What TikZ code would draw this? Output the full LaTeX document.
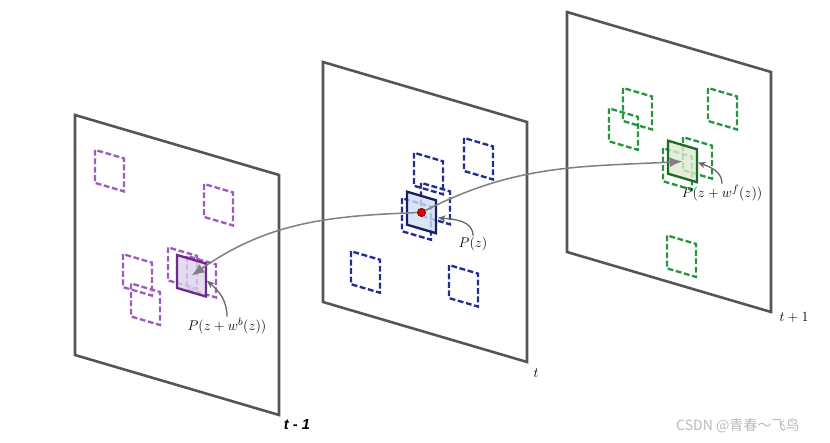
\documentclass[tikz,border=0pt]{standalone}
\usepackage{fontspec}
\newfontfamily\cjkfont{Noto Sans CJK SC}
\newfontfamily\framefont{Liberation Sans}
\usetikzlibrary{arrows.meta}
\definecolor{planegray}{RGB}{85,85,85}
\definecolor{linkgray}{RGB}{128,128,128}
\definecolor{purpD}{RGB}{160,90,190}
\definecolor{purpS}{RGB}{105,45,135}
\definecolor{purpF}{RGB}{222,210,235}
\definecolor{blueD}{RGB}{35,45,145}
\definecolor{blueS}{RGB}{25,30,95}
\definecolor{blueF}{RGB}{205,222,242}
\definecolor{greenD}{RGB}{40,150,65}
\definecolor{greenS}{RGB}{30,105,40}
\definecolor{greenF}{RGB}{222,234,210}
\tikzstyle{plane}=[draw=planegray,line width=2.2pt]
\tikzstyle{cand}=[line width=2pt,dash pattern=on 5pt off 2.2pt]
\tikzstyle{match}=[line width=2pt,fill opacity=0.8]
\tikzstyle{link}=[draw=linkgray,line width=1.3pt,-{Latex[length=11pt,width=8.5pt]}]
\tikzstyle{pointer}=[draw=linkgray!80!black,line width=1.1pt,-{Stealth[length=6.5pt,width=5.5pt]}]
\tikzstyle{lab}=[font=\fontsize{12.5}{14}\selectfont,inner sep=1pt]
\tikzstyle{framelab}=[font=\fontsize{12.5}{14}\selectfont]
\newcommand{\patch}[2]{\draw[#1] (#2) rectangle +(29,33);}

\begin{document}
\begin{tikzpicture}[x=0.03cm,y=-0.03cm]
\useasboundingbox (0,0) rectangle (830,442);
% frame t-1
\begin{scope}[shift={(75,115)},yslant=-0.294]
\draw[plane] (0,0) rectangle (204,240);
\patch{cand,purpD}{20,29}
\patch{cand,purpD}{129,31}
\patch{cand,purpD}{48,125}
\patch{cand,purpD}{56,152}
\patch{cand,purpD}{93,105}
\patch{cand,purpD}{112,108}
\patch{match,draw=purpS,fill=purpF}{102,110}
\coordinate (cb) at (116.5,126.5);
\coordinate (eb) at (132,127);
\end{scope}
% frame t
\begin{scope}[shift={(323,62)},yslant=-0.294]
\draw[plane] (0,0) rectangle (204,240);
\patch{cand,blueD}{91,64}
\patch{cand,blueD}{141,34.5}
\patch{cand,blueD}{98,92}
\patch{cand,blueD}{79,113}
\patch{cand,blueD}{28,181}
\patch{cand,blueD}{126,166}
\patch{match,draw=blueS,fill=blueF}{84,105}
\coordinate (cz) at (98.5,121.5);
\coordinate (ez) at (115,122);
\end{scope}
% frame t+1
\begin{scope}[shift={(567,12)},yslant=-0.294]
\draw[plane] (0,0) rectangle (204,240);
\patch{cand,greenD}{56,59.5}
\patch{cand,greenD}{42,84}
\patch{cand,greenD}{141,34.5}
\patch{cand,greenD}{116,91}
\patch{cand,greenD}{96,108}
\patch{cand,greenD}{100,194}
\patch{match,draw=greenS,fill=greenF}{101,99}
\coordinate (cf) at (115.5,115.5);
\coordinate (ef) at (131,112);
\end{scope}

\node[circle,fill=red!90!black,draw=red!45!black,line width=0.6pt,minimum size=7pt,inner sep=0pt] (pz) at (cz) {};
\draw[link] (pz) to[out=182,in=35] (cb);
\draw[link] (pz) to[out=27,in=183] (cf);

\node[lab] (lb) at (227,326) {$P(z+w^b(z))$};
\node[lab] (lz) at (473,244) {$P(z)$};
\node[lab] (lf) at (722,193) {$P(z+w^f(z))$};
\draw[pointer] (lb.north) to[out=90,in=-40] (eb);
\draw[pointer] (lz.north) to[out=90,in=-5] (ez);
\draw[pointer] (lf.north) to[out=90,in=-20] (ef);

\node[font=\framefont\bfseries\itshape\fontsize{12.5}{14}\selectfont] (lprev) at (297,425) {t - 1};
\node[framelab] (lcur) at (536,373) {$t$};
\node[framelab] (lnext) at (794,318) {$t+1$};
\node[font=\cjkfont\fontsize{12}{14}\selectfont,text=gray!55] (wm) at (738,426) {CSDN @青春～飞鸟};
\end{tikzpicture}
\end{document}
